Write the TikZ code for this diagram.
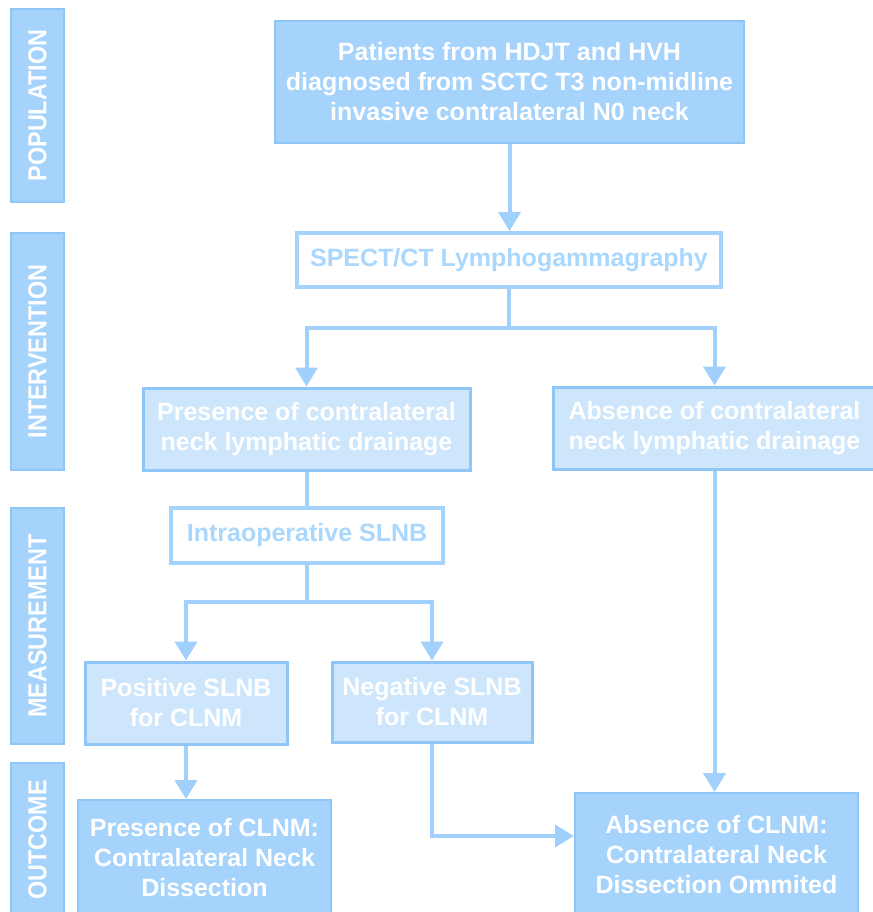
\documentclass[tikz,border=0pt]{standalone}
\usepackage{fontspec}
\usepackage{graphicx}
\setmainfont{Liberation Sans}
\usetikzlibrary{arrows.meta,calc}

\definecolor{darkfill}{HTML}{A5D3FC}
\definecolor{lightfill}{HTML}{CEE6FB}
\definecolor{edgeblue}{HTML}{8EC6F8}
\definecolor{lineblue}{HTML}{A0D0FB}
\definecolor{textblue}{HTML}{AAD7FE}

\tikzset{
  boxtext/.style={font=\fontsize{25}{30}\selectfont\bfseries, align=center, inner sep=0pt},
  darkbox/.style={boxtext, rectangle, fill=darkfill, draw=edgeblue, line width=2pt, text=white},
  lightbox/.style={boxtext, rectangle, fill=lightfill, draw=edgeblue, line width=3pt, text=white},
  whitebox/.style={boxtext, rectangle, fill=white, draw=darkfill, line width=4pt, text=textblue},
  sidelabel/.style={rectangle, fill=darkfill, draw=edgeblue, line width=2pt, text=white,
    rotate=90, inner sep=0pt, font=\fontsize{26}{26}\selectfont\bfseries},
  conn/.style={draw=lineblue, line width=4pt},
  arr/.style={conn, -{Triangle[width=22pt,length=19pt]}},
}

\begin{document}
\begin{tikzpicture}[x=1pt, y=-1pt]
  \useasboundingbox (0,0) rectangle (872,912);

  % phase labels down the left side
  \node[sidelabel, minimum width=193pt, minimum height=53pt] (lpop) at (37.5,105.5) {\scalebox{0.9}[1]{POPULATION}};
  \node[sidelabel, minimum width=237pt, minimum height=53pt] (lint) at (37.5,351.5) {\scalebox{0.9}[1]{INTERVENTION}};
  \node[sidelabel, minimum width=236pt, minimum height=53pt] (lmea) at (37.5,626) {\scalebox{0.9}[1]{MEASUREMENT}};
  \node[sidelabel, minimum width=154pt, minimum height=53pt] (lout) at (37.5,840) {\scalebox{0.9}[1]{OUTCOME}};

  % flow boxes
  \node[darkbox, minimum width=469pt, minimum height=122pt] (top) at (509.5,82)
    {Patients from HDJT and HVH\\diagnosed from SCTC T3 non-midline\\invasive contralateral N0 neck};
  \node[whitebox, minimum width=424pt, minimum height=54pt] (spect) at (509,260)
    {SPECT/CT Lymphogammagraphy};
  \node[lightbox, minimum width=327pt, minimum height=82pt] (pres) at (306.5,429)
    {Presence of contralateral\\neck lymphatic drainage};
  \node[lightbox, minimum width=323pt, minimum height=82pt] (abs) at (714.5,428)
    {Absence of contralateral\\neck lymphatic drainage};
  \node[whitebox, minimum width=272pt, minimum height=55pt] (intra) at (307,535.5)
    {Intraoperative SLNB};
  \node[lightbox, minimum width=202pt, minimum height=82pt] (pos) at (186,703)
    {Positive SLNB\\for CLNM};
  \node[lightbox, minimum width=200pt, minimum height=80pt] (neg) at (432,702)
    {Negative SLNB\\for CLNM};
  \node[darkbox, minimum width=253pt, minimum height=116pt] (presclnm) at (204.5,858)
    {Presence of CLNM:\\Contralateral Neck\\Dissection};
  \node[darkbox, minimum width=283pt, minimum height=123pt] (absclnm) at (716.5,854.5)
    {Absence of CLNM:\\Contralateral Neck\\Dissection Ommited};

  % connectors
  \draw[arr] (top.south) -- (top.south |- spect.north);
  \draw[arr] (spect.south) -- ++(0,39) -| (pres.north);
  \draw[arr] (spect.south) -- ++(0,39) -| (abs.north);
  \draw[conn] (pres.south) -- (pres.south |- intra.north);
  \draw[arr] (intra.south) -- ++(0,37) -| (pos.north);
  \draw[arr] (intra.south) -- ++(0,37) -| (neg.north);
  \draw[arr] (pos.south) -- (pos.south |- presclnm.north);
  \draw[arr] (neg.south) |- ([yshift=18.5pt]absclnm.west);
  \draw[arr] (abs.south) -- (abs.south |- absclnm.north);
\end{tikzpicture}
\end{document}
